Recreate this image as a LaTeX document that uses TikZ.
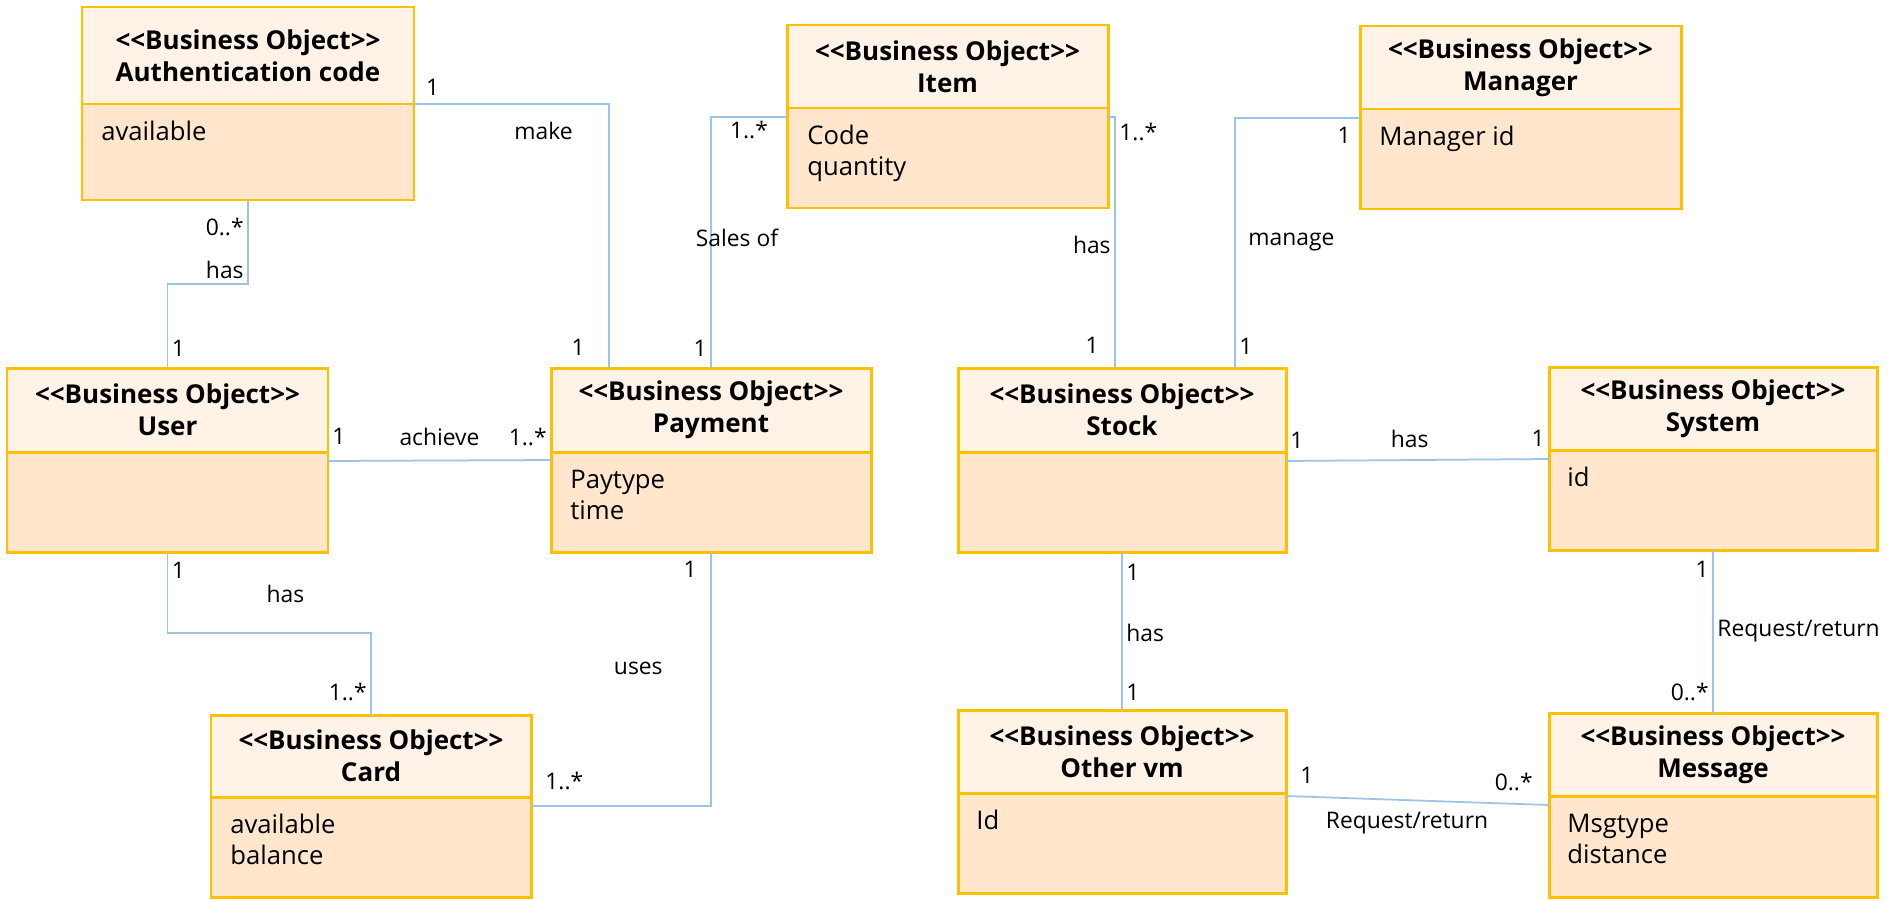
\documentclass[tikz,border=0pt]{standalone}
\usepackage{fontspec}
\setmainfont{Open Sans}[Ligatures=TeXOff]
\usepackage{tikz}
\definecolor{colorBO}{HTML}{FFC000}
\definecolor{colorHead}{HTML}{FFF2E6}
\definecolor{colorBody}{HTML}{FFE6CC}
\definecolor{colorAS}{HTML}{9DC3E6}
\usetikzlibrary{calc}
\usetikzlibrary{positioning}
\newcommand{\upx}{0.02cm}
\newcommand{\stereo}{<<Business Object>>}
\newcommand{\attrs}[1]{\parbox[t]{5cm}{\raggedright #1}}
\tikzset{
   bohead/.style={draw=colorBO,fill=colorHead,line width=1.7pt,outer sep=0pt,inner sep=0pt,anchor=north west,
                  minimum width=#1*\upx,minimum height=84*\upx,align=center,font=\fontsize{14.8}{18.2}\selectfont\bfseries},
   bobody/.style={draw=colorBO,fill=colorBody,line width=1.7pt,outer sep=0pt,inner sep=0pt,
                  minimum width=#1*\upx,minimum height=100*\upx},
   boattr/.style={anchor=base west,inner sep=0pt,font=\fontsize{14.6}{18.2}\selectfont},
   as/.style={color=colorAS,line width=1pt},
   lab/.style={inner sep=2pt,text=black,font=\fontsize{13}{16}\selectfont},
}

\begin{document}
\begin{tikzpicture}[x=0.02cm,y=-0.02cm]
        \useasboundingbox (0,0) rectangle (1896,900);

        \node[bohead=332,minimum height=97*\upx] (auth) at (82,7) {\stereo\\Authentication code};
        \node[bobody=332,minimum height=96*\upx,below=0pt of auth] (auth-b) {};

        \node[bohead=321,minimum height=83*\upx] (item) at (787,25) {\stereo\\Item};
        \node[bobody=321,below=0pt of item] (item-b) {};

        \node[bohead=321,minimum height=83*\upx] (mgr) at (1360,26) {\stereo\\Manager};
        \node[bobody=321,below=0pt of mgr] (mgr-b) {};

        \node[bohead=321] (user) at (7,368) {\stereo\\User};
        \node[bobody=321,below=0pt of user] (user-b) {};

        \node[bohead=320] (pay) at (551,368) {\stereo\\Payment};
        \node[bobody=320,below=0pt of pay] (pay-b) {};

        \node[bohead=328] (stock) at (958,368) {\stereo\\Stock};
        \node[bobody=328,below=0pt of stock] (stock-b) {};

        \node[bohead=328,minimum height=83*\upx] (sys) at (1549,367) {\stereo\\System};
        \node[bobody=328,below=0pt of sys] (sys-b) {};

        \node[bohead=320,minimum height=82*\upx] (card) at (211,715) {\stereo\\Card};
        \node[bobody=320,below=0pt of card] (card-b) {};

        \node[bohead=328,minimum height=83*\upx] (vm) at (958,710) {\stereo\\Other vm};
        \node[bobody=328,below=0pt of vm] (vm-b) {};

        \node[bohead=328,minimum height=83*\upx] (msg) at (1549,713) {\stereo\\Message};
        \node[bobody=328,minimum height=101*\upx,below=0pt of msg] (msg-b) {};

        % attributes
        \node[boattr] (auth-a) at ($(auth-b.north west)+(19,36)$) {\attrs{available}};
        \node[boattr] (item-a) at ($(item-b.north west)+(20,36)$) {\attrs{Code\\quantity}};
        \node[boattr] (mgr-a) at ($(mgr-b.north west)+(19,36)$) {\attrs{Manager id}};
        \node[boattr] (pay-a) at ($(pay-b.north west)+(19,36)$) {\attrs{Paytype\\time}};
        \node[boattr] (sys-a) at ($(sys-b.north west)+(18,36)$) {\attrs{id}};
        \node[boattr] (card-a) at ($(card-b.north west)+(19,36)$) {\attrs{available\\balance}};
        \node[boattr] (vm-a) at ($(vm-b.north west)+(18,36)$) {\attrs{Id}};
        \node[boattr] (msg-a) at ($(msg-b.north west)+(18,36)$) {\attrs{Msgtype\\distance}};

        % associations
        \draw[as] (auth-b.south) -- node[lab,left,pos=0.32] {0..*} node[lab,left,pos=0.83] {has} ++(0,84)
                  -| node[lab,right,pos=0.88] {1} (user.north);
        \draw[as] (auth-b.north east) -| node[lab,above right,pos=0.02,yshift=4*\upx] {1}
                  node[lab,anchor=north east,pos=0.5,xshift=-32*\upx,yshift=-14*\upx] {make}
                  node[lab,left,pos=0.96,xshift=-20*\upx] {1} ($(pay.north west)+(58,0)$);
        \draw[as] ($(item-b.north west)+(0,9)$) -| node[lab,below,pos=0.25] {1..*}
                  node[lab,pos=0.74,xshift=26*\upx] {Sales of} node[lab,left,pos=0.96] {1} (pay.north);
        \draw[as] ($(item-b.north east)+(0,9)$) -| node[lab,right,pos=0.53] {1..*}
                  node[lab,left,pos=0.755] {has} node[lab,left,pos=0.954,xshift=-12*\upx] {1} ($(stock.north)+(-7,0)$);
        \draw[as] ($(mgr-b.north west)+(0,9)$) -| node[lab,below left,pos=0.02,yshift=-5*\upx] {1}
                  node[lab,right,pos=0.748,xshift=9*\upx] {manage} node[lab,right,pos=0.956] {1} ($(stock.north)+(113,0)$);
        \draw[as] ($(user-b.north east)+(0,9)$) -- node[lab,above right,pos=0,yshift=12*\upx] {1}
                  node[lab,above,pos=0.5,yshift=10*\upx] {achieve}
                  node[lab,above left,pos=1,yshift=10*\upx] {1..*} ($(pay-b.north west)+(0,8)$);
        \draw[as] (user-b.south) -- node[lab,right,pos=0.23] {1} ++(0,81)
                  -| node[lab,above,pos=0.29,yshift=26*\upx] {has} node[lab,left,pos=0.86] {1..*} (card.north);
        \draw[as] (pay-b.south) |- node[lab,left,pos=0.035,xshift=-10*\upx] {1}
                  node[lab,left,pos=0.23,xshift=-44*\upx] {uses}
                  node[lab,above right,pos=1,xshift=10*\upx,yshift=12*\upx] {1..*} ($(card-b.north east)+(0,9)$);
        \draw[as] ($(stock-b.north east)+(0,9)$) -- node[lab,above right,pos=0,yshift=8*\upx] {1}
                  node[lab,above,pos=0.47,yshift=8*\upx] {has}
                  node[lab,above left,pos=1,yshift=8*\upx] {1} ($(sys-b.north west)+(0,9)$);
        \draw[as] (stock-b.south) -- node[lab,right,pos=0.13] {1} node[lab,right,pos=0.51] {has}
                  node[lab,right,pos=0.89] {1} (vm.north);
        \draw[as] (sys-b.south) -- node[lab,left,pos=0.12] {1} node[lab,right,pos=0.5] {Request/return}
                  node[lab,left,pos=0.87] {0..*} (msg.north);
        \draw[as] ($(vm-b.north east)+(0,3)$) -- node[lab,above right,pos=0,xshift=10*\upx,yshift=8*\upx] {1}
                  node[lab,below,pos=0.46,yshift=-8*\upx] {Request/return}
                  node[lab,above left,pos=1,xshift=-12*\upx,yshift=10*\upx] {0..*} ($(msg-b.north west)+(0,9)$);

\end{tikzpicture}
\end{document}
